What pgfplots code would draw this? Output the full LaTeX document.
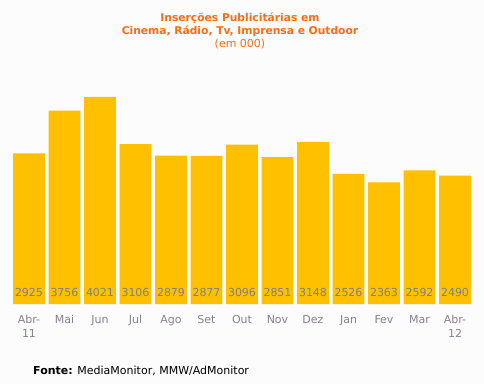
\documentclass[border=0pt]{standalone}
\usepackage{pgfplots}
\pgfplotsset{compat=1.18}
\usepackage{pgfplotstable}
\usepackage{fontspec}
\setmainfont{DejaVu Sans}
\definecolor{barc}{HTML}{FFC000}
\definecolor{titc}{HTML}{FF6A13}
\definecolor{lab}{HTML}{808080}
\definecolor{tick}{HTML}{87808F}
\definecolor{bg}{HTML}{FCFCFC}
\pgfplotstableread{
x v
0 2925
1 3756
2 4021
3 3106
4 2879
5 2877
6 3096
7 2851
8 3148
9 2526
10 2363
11 2592
12 2490
}\data
\begin{document}
\begin{tikzpicture}
\fill[bg] (0pt,0pt) rectangle (484pt,384pt);
\path[use as bounding box] (0pt,0pt) rectangle (484pt,384pt);
\begin{axis}[at={(11.25pt,80pt)}, anchor=south west, scale only axis,
  width=461.5pt, height=211.2pt,
  xmin=-0.5, xmax=12.5, ymin=0, ymax=4100,
  axis line style={draw=none}, tick style={draw=none},
  ytick=\empty, xtick={0,...,12},
  xticklabels={{Abr-\\11},Mai,Jun,Jul,Ago,Set,Out,Nov,Dez,Jan,Fev,Mar,{Abr-\\12}},
  xticklabel style={font=\fontsize{11}{14}\selectfont, text=tick, align=center, anchor=north, inner sep=0pt, yshift=-11pt},
  clip=false]
\addplot[ybar, bar width=0.9, fill=barc, draw=none] table[x=x,y=v]{\data};
\addplot[draw=none, mark=none, nodes near coords, point meta=explicit symbolic,
  nodes near coords style={anchor=center, yshift=12pt, text=lab, font=\fontsize{11}{13}\selectfont, inner sep=0pt}]
  table[x=x, y expr=0, meta=v]{\data};
\end{axis}
\node[font=\bfseries\fontsize{10.7}{13}\selectfont, text=titc, align=center] at (240pt,359.5pt) {Inserções Publicitárias em\\Cinema, Rádio, Tv, Imprensa e Outdoor};
\node[font=\fontsize{11}{13}\selectfont, text=titc] at (240pt,340pt) {(em 000)};
\node[anchor=west, font=\fontsize{11}{13}\selectfont, inner sep=0pt] at (33pt,13pt) {\textbf{Fonte:} MediaMonitor, MMW/AdMonitor};
\end{tikzpicture}
\end{document}
